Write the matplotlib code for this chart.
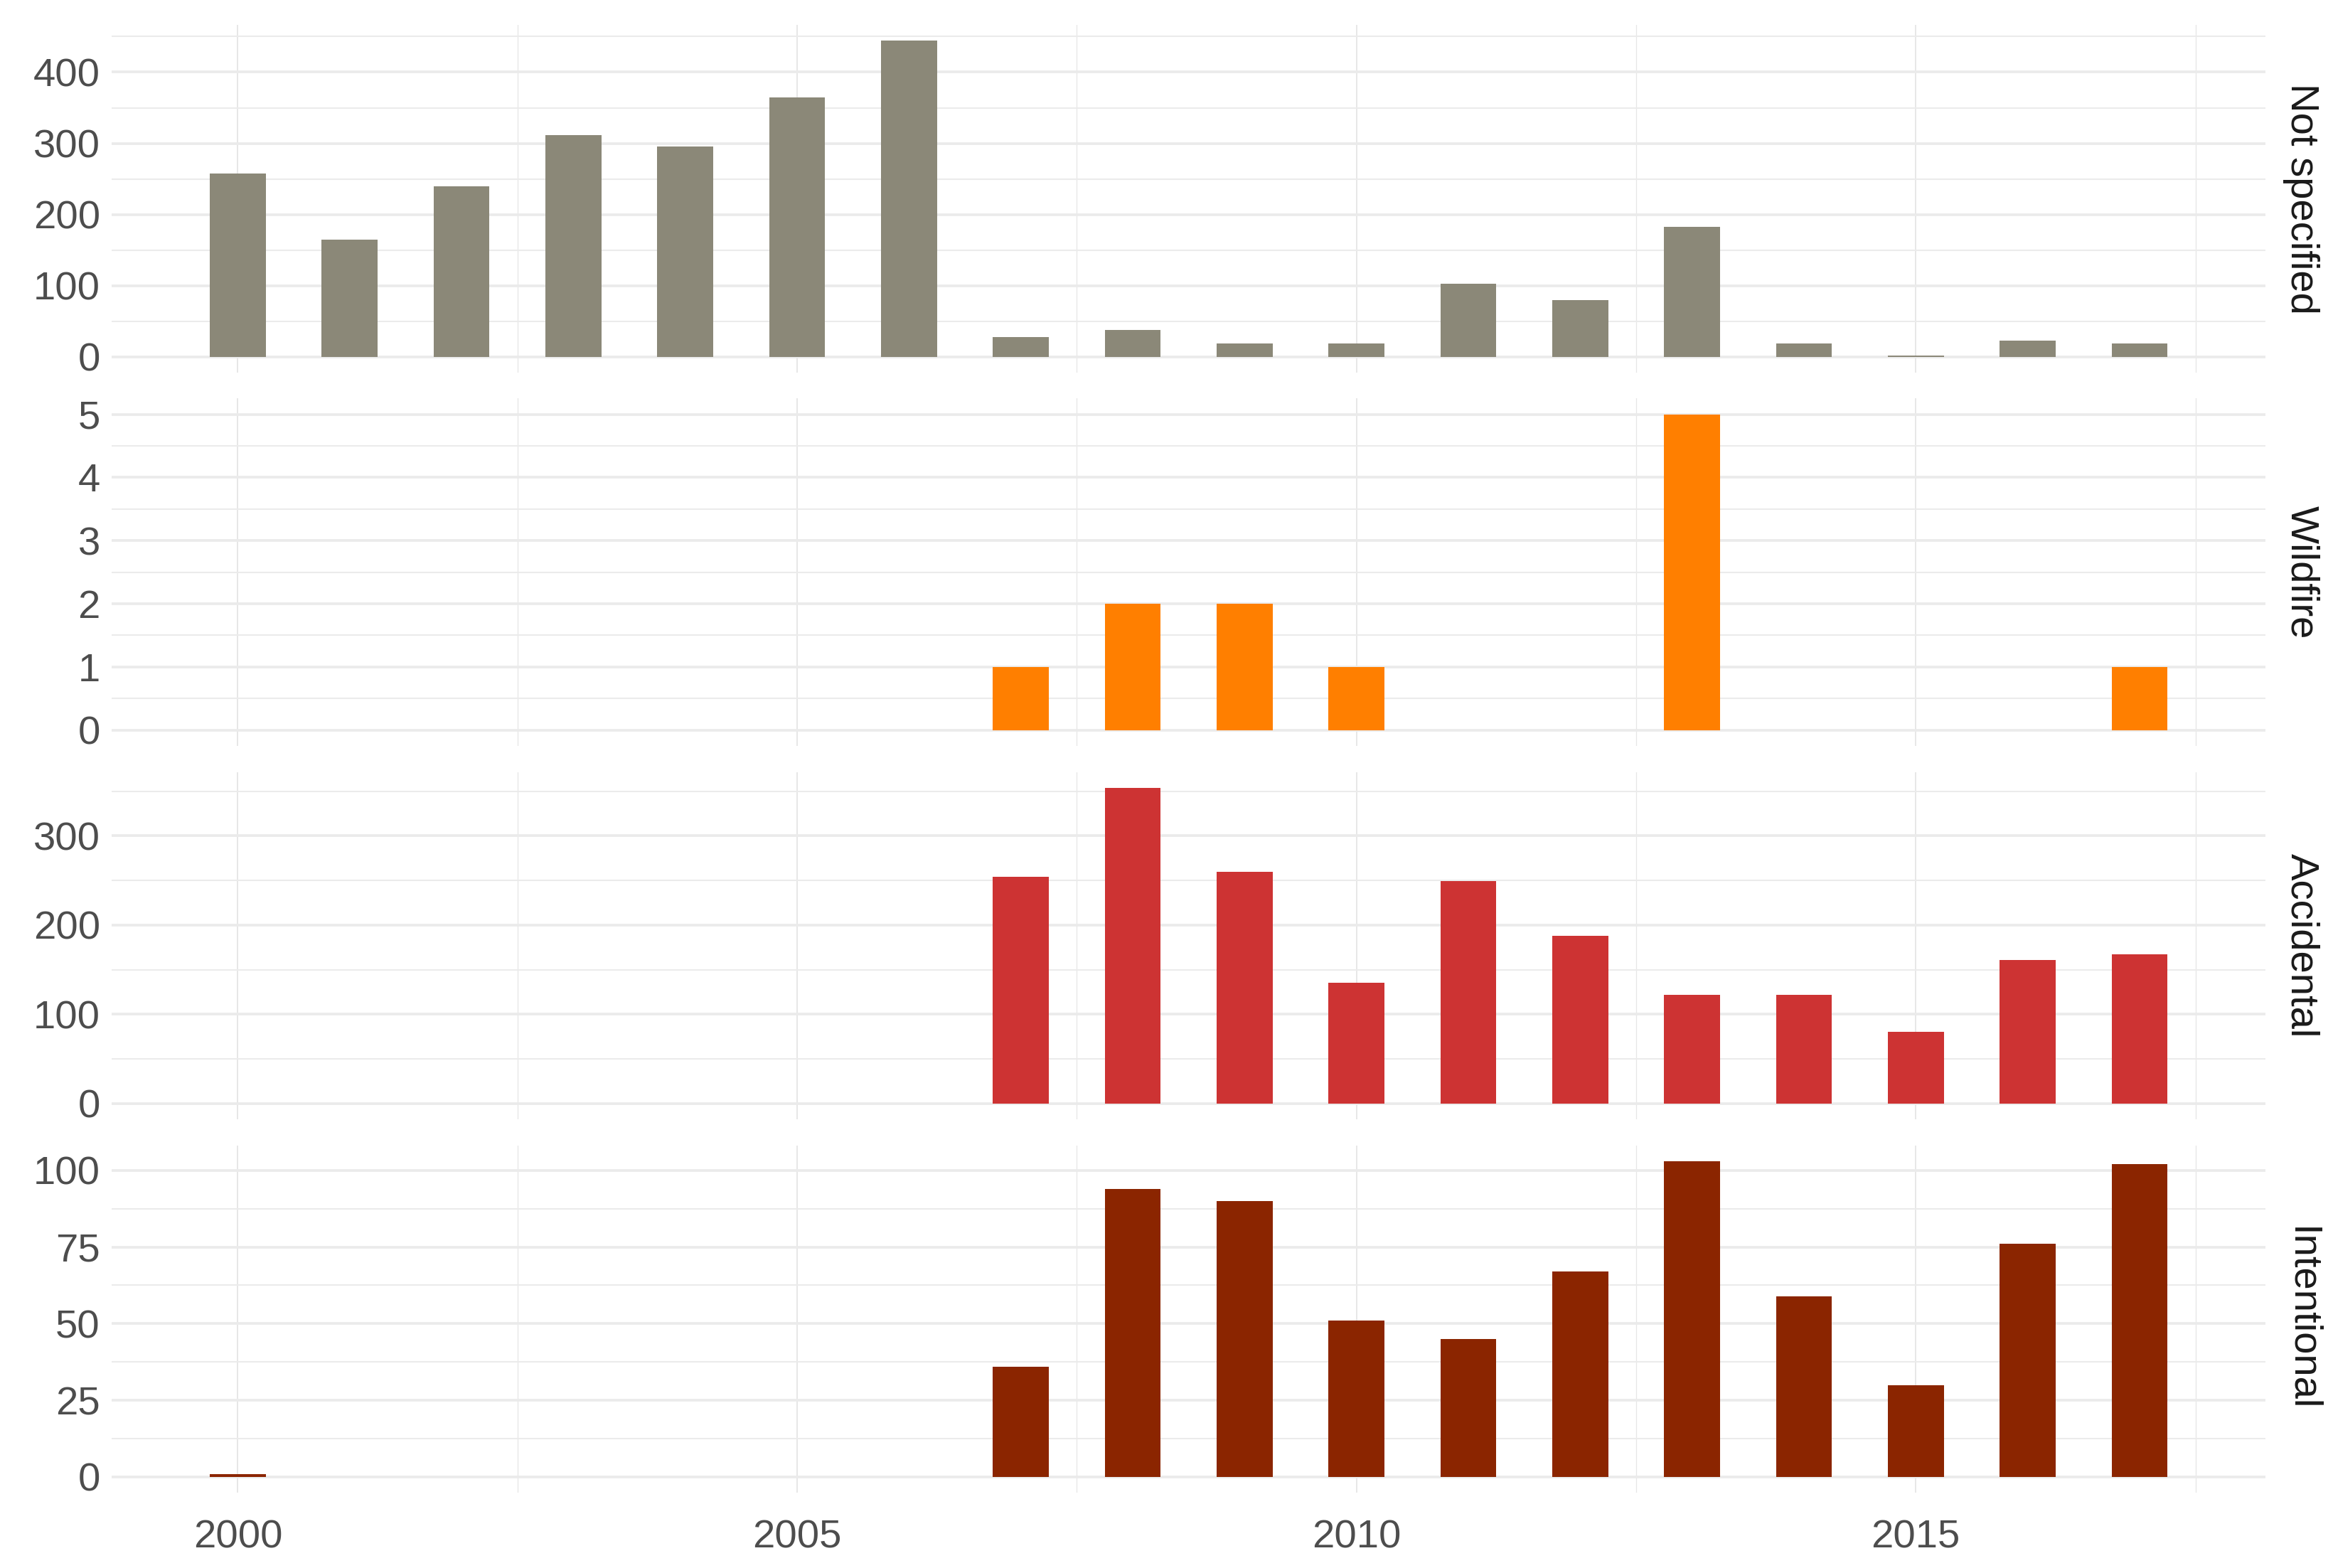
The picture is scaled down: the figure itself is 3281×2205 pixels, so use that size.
import numpy as np
import matplotlib
matplotlib.use("Agg")
import matplotlib.pyplot as plt
from matplotlib.ticker import MultipleLocator

plt.rcParams['font.family'] = ['Liberation Sans', 'DejaVu Sans']

years = list(range(2000, 2018))

# counts per year for each cause
not_specified = [258, 165, 240, 312, 296, 364, 444, 28, 38, 19, 19, 103, 80, 183, 19, 2, 23, 19]
wildfire = [0, 0, 0, 0, 0, 0, 0, 1, 2, 2, 1, 0, 0, 5, 0, 0, 0, 1]
accidental = [0, 0, 0, 0, 0, 0, 0, 254, 354, 260, 135, 249, 188, 122, 122, 80, 161, 167]
intentional = [1, 0, 0, 0, 0, 0, 0, 36, 94, 90, 51, 45, 67, 103, 59, 30, 76, 102]

panels = ["Not specified", "Wildfire", "Accidental", "Intentional"]
series = [not_specified, wildfire, accidental, intentional]
colors = ["#8B8878", "#FF7F00", "#CD3333", "#8B2500"]
majors = [100, 1, 100, 25]

fig, axes = plt.subplots(4, 1, figsize=(3281 / 300, 2205 / 300), dpi=300, sharex=True)
fig.subplots_adjust(left=0.048, right=0.971, top=0.984, bottom=0.048, hspace=0.075)

for ax, name, vals, col, maj in zip(axes, panels, series, colors, majors):
    vals = np.array(vals, dtype=float)
    mask = vals > 0
    ax.bar(np.array(years)[mask], vals[mask], width=0.5, color=col, zorder=3)
    top = vals.max()
    ax.set_ylim(-0.05 * top, top * 1.05)
    ax.set_xlim(1998.875, 2018.125)
    ax.yaxis.set_major_locator(MultipleLocator(maj))
    ax.yaxis.set_minor_locator(MultipleLocator(maj / 2))
    ax.xaxis.set_major_locator(MultipleLocator(5))
    ax.xaxis.set_minor_locator(MultipleLocator(2.5))
    ax.grid(True, which='major', axis='y', color='#EBEBEB', lw=0.9, zorder=0)
    ax.grid(True, which='minor', axis='y', color='#EBEBEB', lw=0.5, zorder=0)
    ax.grid(True, which='major', axis='x', color='#E6E6E6', lw=0.45, zorder=0)
    ax.grid(True, which='minor', axis='x', color='#E6E6E6', lw=0.3, zorder=0)
    for s in ax.spines.values():
        s.set_visible(False)
    ax.tick_params(which='both', length=0, labelsize=13.5, labelcolor='#4D4D4D', pad=4)
    ax.text(1.008, 0.5, name, transform=ax.transAxes, rotation=270,
            ha='left', va='center', fontsize=13.5, color='#1A1A1A')

axes[-1].set_xticks([2000, 2005, 2010, 2015])
axes[-1].tick_params(axis='x', pad=9)

fig.savefig("out.png", dpi=300)
